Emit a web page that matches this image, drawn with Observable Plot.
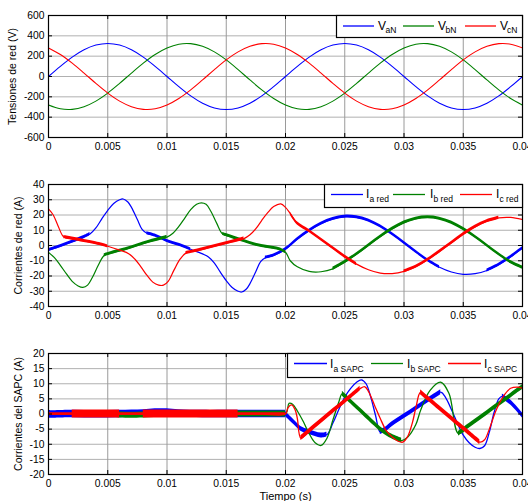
<!DOCTYPE html>
<html><head><meta charset="utf-8">
<script src="https://cdn.jsdelivr.net/npm/d3@7"></script>
<script src="https://cdn.jsdelivr.net/npm/@observablehq/plot@0.6"></script>
<style>
html,body{margin:0;padding:0;background:#fff;}
#chart{position:relative;width:528px;height:501px;overflow:hidden;background:#fff;}
</style></head><body><div id="chart"></div>
<script>
// ---------------- DATA ----------------
const xTicks = [0, 0.005, 0.01, 0.015, 0.02, 0.025, 0.03, 0.035, 0.04];
const yTicksTop = [-600, -400, -200, 0, 200, 400, 600];
const yTicksMid = [-40, -30, -20, -10, 0, 10, 20, 30, 40];
const yTicksBot = [-20, -15, -10, -5, 0, 5, 10, 15, 20];
const yLabels = ["Tensiones de red (V)", "Corrientes de red (A)", "Corrientes del SAPC (A)"];
const xLabel = "Tiempo (s)";
const legendTop = [["V", "aN"], ["V", "bN"], ["V", "cN"]];
const legendMid = [["I", "a red"], ["I", "b red"], ["I", "c red"]];
const legendBot = [["I", "a SAPC"], ["I", "b SAPC"], ["I", "c SAPC"]];

// Panel 1: grid voltages (V), time in ms
const tTopMs = [0,1,2,3,4,5,6,7,8,9,10,11,12,13,14,15,16,17,18,19,20,21,22,23,24,25,26,27,28,29,30,31,32,33,34,35,36,37,38,39,40];
const vaN = [0,100,191,263,309,325,309,263,191,100,0,-100,-191,-263,-309,-325,-309,-263,-191,-100,0,100,191,263,309,325,309,263,191,100,0,-100,-191,-263,-309,-325,-309,-263,-191,-100,0];
const vbN = [-281,-318,-323,-297,-242,-163,-68,34,132,217,281,318,323,297,242,163,68,-34,-132,-217,-281,-318,-323,-297,-242,-163,-68,34,132,217,281,318,323,297,242,163,68,-34,-132,-217,-281];
const vcN = [281,217,132,34,-68,-163,-242,-297,-323,-318,-281,-217,-132,-34,68,163,242,297,323,318,281,217,132,34,-68,-163,-242,-297,-323,-318,-281,-217,-132,-34,68,163,242,297,323,318,281];

// Panel 2: grid currents (A)
const iaRedMs = [0,1,2,3,3.5,4,4.5,5,5.5,6,6.3,6.7,7,7.5,7.9,8.3,9,10,11,12,13,13.5,14,14.5,15,15.5,16,16.3,16.7,17,17.5,17.9,18.3,19,20,21,22,23,24,25,26,27,28,29,30,31,32,33,34,35,36,37,38,39,40];
const iaRed = [-3,-0.5,2.5,5.5,7.5,11.5,17.5,23,27.5,30,30.5,28.5,25,17,10.5,8,6.5,3,0.5,-2.5,-5.5,-7.5,-11.5,-17.5,-23,-27.5,-30,-30.5,-28.5,-25,-17,-10.5,-8,-6.5,-2.5,4.1,9.7,14.3,17.4,18.9,18.5,16.4,12.6,7.5,1.8,-4.1,-9.7,-14.3,-17.4,-18.9,-18.5,-16.4,-12.6,-7.5,-1.8];
const ibRedMs = [0,0.5,1,1.5,2,2.5,2.9,3.3,3.7,4.2,4.7,5.5,6.5,7.5,8.5,9.5,10,10.5,11,11.5,12,12.5,12.9,13.3,13.7,14.2,14.7,15.5,16.5,17.5,18.5,19.5,20,20.4,21,22,23,24,25,26,27,28,29,30,31,32,33,34,35,36,37,38,39,40];
const ibRed = [-4.5,-8,-13,-18.5,-23.5,-26.5,-27.5,-26,-21,-13,-6.5,-4.5,-2.5,0,2.5,4.5,5.5,8,12.5,18,23.5,27,28,27,22.5,14.5,7.5,5.5,3,0.5,-1,-2.5,-4.4,-10,-14,-17,-17.2,-15.3,-10.9,-5.7,0,5.7,10.9,15,17.6,18.5,17.6,15,10.9,5.7,0,-5.7,-10.9,-14.5];
const icRedMs = [0,0.4,0.8,1.3,2,3,4,5,6,6.8,7.3,7.8,8.3,8.8,9.3,9.7,10.1,10.6,11.1,11.6,12.5,13.5,14.5,15.5,16.5,17,17.5,18,18.5,19,19.6,20,20.4,21,22,23,24,25,26,27,28,29,30,31,32,33,34,35,36,37,38,39,40];
const icRed = [24,20,13,5.5,4.5,3,1.5,-0.5,-3,-5.5,-9,-14,-19.5,-24,-26,-26,-23.5,-16,-9,-5,-3.5,-1.5,0.5,2.5,4.5,7,11,16.5,21.5,25.5,27.3,25,21,14.5,9.5,4,-1.7,-7.3,-12.2,-15.9,-18.1,-18.4,-17,-13.9,-9.4,-4,1.7,7.3,12.2,15.9,18.1,18.4,17];
// switching ripple: [start ms, end ms, half-amplitude A]
const iaRedRipple = [[0,3.5,1.0],[8.3,12,1.0],[18.3,33,1.0],[37,40,1.0]];
const ibRedRipple = [[4.7,10,1.0],[14.7,20,1.0],[24,40,1.0]];
const icRedRipple = [[1.3,5,1.0],[11.6,16.5,1.0],[20.4,26,1.0],[30,38,1.0]];

// Panel 3: SAPC currents (A)
const iaSapcMs = [0,2,4,6,8,9,10,11,13,15,17,19,20,20.7,21.3,22,23,23.5,24,24.5,25,25.5,26,26.4,26.8,27.2,27.6,28,28.5,29,30,31,32,33.1,33.5,34,34.5,35,35.5,36,36.4,36.8,37.2,37.6,38,38.3,39,40];
const iaSapc = [-0.2,0,-0.1,0,0.2,0.5,0.5,0.2,0,0,0,0,0,-2.7,-4.9,-6,-7.1,-6.8,-3,1.5,5.6,8.5,10.5,11.3,10,5.5,-0.5,-6,-5,-3.4,-0.8,1.8,4.4,7.2,5.5,1.5,-3,-7,-9.5,-11,-11.4,-10.5,-6,0.5,5,5.8,3.8,-0.5];
const ibSapcMs = [0,2,4,6,7,8,10,12,14,16,18,20,20.3,20.6,21,21.5,22,22.5,23,23.5,24,24.5,24.8,25.5,26.5,27.5,28,29,29.8,30.3,31,31.4,32.2,33.1,33.8,34.6,35.5,36.5,37.5,38.5,39.5,40];
const ibSapc = [0,0,0,-0.3,-0.4,-0.3,0,0,0,0,0,0,3.5,3.2,1,-2.5,-6.5,-9.5,-10.4,-8,-2,4,6.7,4.2,0.5,-3.2,-5,-7.5,-8.8,-7.7,-3.5,1.2,7.8,10.5,6.8,-6.5,-3.9,-1.1,1.8,4.6,7.5,8.9];
const icSapcMs = [0,2,4,6,8,10,12,14,16,18,20,20.2,20.5,20.8,21,21.3,22,23,24,25,26.3,26.7,27,27.5,28,28.5,29,29.5,29.9,30.3,30.7,31,31.4,32,33,34,35,36.4,36.8,37.2,37.8,38.5,39,39.6,40];
const icSapc = [0,0,0,0,0,0,0,0,0,0,0,2,3,1.5,-1.5,-8,-5.7,-2.4,0.9,4.1,8.4,9,7.5,3,-1.5,-5.5,-7.6,-9,-9.3,-7.5,-3,2,7.2,5.2,1.9,-1.4,-4.7,-9.3,-8.5,-5,1.5,6.5,8.5,8.9,8.5];
const iaSapcRipple = [[0,20,1.2],[20,23.5,0.8],[28,33.1,0.8],[38.3,40,0.8]];
const ibSapcRipple = [[4,20,1.0],[24.8,29.8,0.8],[34.6,40,0.8]];
const icSapcRipple = [[0,20,0.4],[2,6,1.3],[8,16,1.3],[21.3,26.3,0.8],[31.4,36.4,0.8]];

// ---------------- DRAWING ----------------
const W = 528, ML = 48, MR = 6;
const FONT = '"Liberation Sans", Arial, Helvetica, sans-serif';
const COL = ["#0000ff", "#008000", "#ff0000"];
const fmtX = d => d === 0 ? "0" : String(+d.toFixed(3));

function rows(tms, vals) { return tms.map((t, i) => ({t: t / 1000, v: vals[i]})); }
function rippleRows(tms, vals, ripple) {
  const out = [];
  ripple.forEach(([a, b, r], k) => {
    tms.forEach((t, i) => { if (t >= a - 1e-9 && t <= b + 1e-9) out.push({t: t / 1000, lo: vals[i] - r, hi: vals[i] + r, seg: k}); });
  });
  return out;
}

function panel({top, height, mt, mb, yDomain, yTicks, ylabel, ylabelDx, series, thinW, xlab}) {
  const plotH = height - mt - mb, plotW = W - ML - MR;
  const marks = [
    Plot.ruleY(yTicks, {y: d => d, stroke: "#b0b0b0", strokeWidth: 1}),
    Plot.ruleX(xTicks, {x: d => d, stroke: "#9a9a9a", strokeWidth: 1})
  ];
  series.forEach((s, i) => {
    marks.push(Plot.line(rows(s.t, s.v), {x: "t", y: "v", stroke: COL[i], strokeWidth: thinW, curve: "catmull-rom", clip: true}));
    if (s.r) marks.push(Plot.areaY(rippleRows(s.t, s.v, s.r), {x: "t", y1: "lo", y2: "hi", z: "seg", fill: COL[i], curve: "catmull-rom", clip: true}));
  });
  marks.push(
    Plot.frame({stroke: "black", strokeWidth: 1.2}),
    Plot.tickX(xTicks, {x: d => d, insetTop: plotH - 4, stroke: "black"}),
    Plot.tickX(xTicks, {x: d => d, insetBottom: plotH - 4, stroke: "black"}),
    Plot.tickY(yTicks, {y: d => d, insetRight: plotW - 4, stroke: "black"}),
    Plot.tickY(yTicks, {y: d => d, insetLeft: plotW - 4, stroke: "black"}),
    Plot.axisX(xTicks, {tickSize: 0, tickPadding: 5, tickFormat: fmtX, label: null}),
    Plot.axisY(yTicks, {tickSize: 0, tickPadding: 4, tickFormat: d => String(d), label: null}),
    Plot.text([ylabel], {text: d => d, frameAnchor: "left", textAnchor: "middle", lineAnchor: "middle", rotate: -90, dx: ylabelDx, fontSize: 10.5})
  );
  if (xlab) marks.push(Plot.text([xlab], {text: d => d, frameAnchor: "bottom", textAnchor: "middle", dy: 25.5, lineAnchor: "bottom", fontSize: 11}));
  const svg = Plot.plot({
    width: W, height, marginLeft: ML, marginRight: MR, marginTop: mt, marginBottom: mb,
    x: {domain: [0, 0.04]}, y: {domain: yDomain},
    style: {fontFamily: FONT, fontSize: "10.3px", background: "white", color: "black", overflow: "visible"},
    marks
  });
  svg.style.position = "absolute";
  svg.style.left = "0px";
  svg.style.top = top + "px";
  document.getElementById("chart").appendChild(svg);
}

panel({top: 0, height: 170, mt: 15, mb: 33, yDomain: [-600, 600], yTicks: yTicksTop, ylabel: yLabels[0], ylabelDx: -35.5, thinW: 1.1,
  series: [{t: tTopMs, v: vaN}, {t: tTopMs, v: vbN}, {t: tTopMs, v: vcN}]});
panel({top: 170, height: 160, mt: 14, mb: 24, yDomain: [-40, 40], yTicks: yTicksMid, ylabel: yLabels[1], ylabelDx: -29.5, thinW: 1.2,
  series: [{t: iaRedMs, v: iaRed, r: iaRedRipple}, {t: ibRedMs, v: ibRed, r: ibRedRipple}, {t: icRedMs, v: icRed, r: icRedRipple}]});
panel({top: 330, height: 171, mt: 23, mb: 27, yDomain: [-20, 20], yTicks: yTicksBot, ylabel: yLabels[2], ylabelDx: -29.5, thinW: 1.3, xlab: xLabel,
  series: [{t: iaSapcMs, v: iaSapc, r: iaSapcRipple}, {t: ibSapcMs, v: ibSapc, r: ibSapcRipple}, {t: icSapcMs, v: icSapc, r: icSapcRipple}]});

// Legends (overlay)
const ov = d3.select("#chart").append("svg")
  .attr("width", 528).attr("height", 501)
  .style("position", "absolute").style("left", "0px").style("top", "0px")
  .style("font-family", FONT);
const legends = [
  {labels: legendTop, box: [336, 15, 522, 37], ly: 26, lines: [[343, 374], [403, 434], [465, 496]], mx: [378, 438, 500], sx: [385.5, 445.5, 507], mb: 29.8, sb: 33},
  {labels: legendMid, box: [324, 184, 522, 207], ly: 194.5, lines: [[331, 363], [393, 425], [460, 492]], mx: [366, 430, 496], sx: [369.5, 433.5, 499.5], mb: 197.5, sb: 202},
  {labels: legendBot, box: [287, 353, 522, 377], ly: 363.5, lines: [[294, 327], [371, 403], [448, 481]], mx: [330, 407, 484], sx: [333.5, 410.5, 487.5], mb: 367.5, sb: 372}
];
legends.forEach(L => {
  const [x0, y0, x1, y1] = L.box;
  ov.append("rect").attr("x", x0 + 0.5).attr("y", y0 + 0.5).attr("width", x1 - x0).attr("height", y1 - y0)
    .attr("fill", "white").attr("stroke", "black").attr("stroke-width", 1.2);
  L.labels.forEach((lab, i) => {
    ov.append("line").attr("x1", L.lines[i][0]).attr("x2", L.lines[i][1]).attr("y1", L.ly).attr("y2", L.ly)
      .attr("stroke", COL[i]).attr("stroke-width", 1.3);
    ov.append("text").attr("x", L.mx[i]).attr("y", L.mb).attr("font-size", 12).text(lab[0]);
    ov.append("text").attr("x", L.sx[i]).attr("y", L.sb).attr("font-size", 8.5).text(lab[1]);
  });
});
</script></body></html>
